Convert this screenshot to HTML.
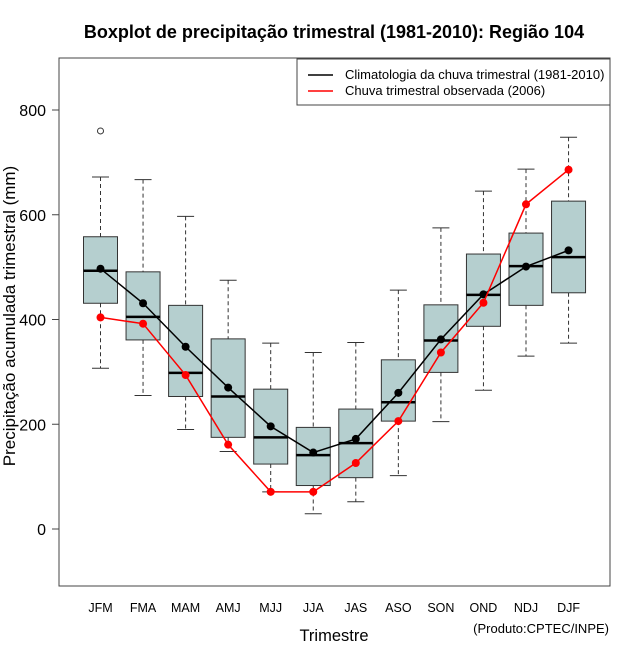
<!DOCTYPE html>
<html><head><meta charset="utf-8"><style>
html,body{margin:0;padding:0;background:#fff;}
svg{display:block;font-family:"Liberation Sans",sans-serif;}
</style></head><body>
<svg id="chart" width="640" height="660" viewBox="0 0 640 660">
<text x="334" y="38" text-anchor="middle" font-size="18" font-weight="bold">Boxplot de precipitação trimestral (1981-2010): Região 104</text>
<rect x="59" y="58" width="551" height="528" fill="none" stroke="#444" stroke-width="1"/>
<g id="yaxis"></g>
<g id="xaxis"></g>
<g id="boxes"></g>
<g id="lines"></g>
<text transform="translate(15,316) rotate(-90)" text-anchor="middle" font-size="17">Precipitação acumulada trimestral (mm)</text>
<text x="334" y="641" text-anchor="middle" font-size="16.5">Trimestre</text>
<text x="609" y="633" text-anchor="end" font-size="13">(Produto:CPTEC/INPE)</text>
<g>
<rect x="297" y="59" width="313" height="46" fill="#fff" stroke="#444" stroke-width="1"/>
<line x1="308" y1="75" x2="333" y2="75" stroke="#000" stroke-width="1.5"/>
<text x="345" y="79" font-size="13">Climatologia da chuva trimestral (1981-2010)</text>
<line x1="308" y1="91" x2="333" y2="91" stroke="#f00" stroke-width="1.5"/>
<text x="345" y="95" font-size="13">Chuva trimestral observada (2006)</text>
</g>
</svg>
<script>
const categories=["JFM","FMA","MAM","AMJ","MJJ","JJA","JAS","ASO","SON","OND","NDJ","DJF"];
const whiskerLow=[307,255,190,148,71,29,52,102,205,265,330,355];
const boxLow=[431,361,253,175,124,83,98,206,299,387,427,451];
const medians=[493,405,298,253,175,141,164,242,360,447,502,519];
const boxHigh=[558,491,427,363,267,194,229,323,428,525,565,626];
const whiskerHigh=[672,667,597,475,355,337,356,456,575,645,687,748];
const outliers=[[0,760]];
const climatology=[497,431,348,270,196,146,172,260,362,448,501,532];
const observed=[404,392,294,161,71,71,126,206,337,432,620,686];
const yTicks=[0,200,400,600,800];

const NS="http://www.w3.org/2000/svg";
const yS=v=>529-v*0.52375;
const xS=i=>100.5+i*42.55;
function mk(tag,attrs,parent){const e=document.createElementNS(NS,tag);for(const k in attrs)e.setAttribute(k,attrs[k]);parent.appendChild(e);return e;}
const ya=document.getElementById('yaxis'),xa=document.getElementById('xaxis'),bx=document.getElementById('boxes'),ln=document.getElementById('lines');
yTicks.forEach(v=>{
  const t=mk('line',{x1:52,x2:59,y1:yS(v),y2:yS(v),stroke:'#444'},ya);
  
  
  const l=mk('text',{x:46,y:yS(v)+6,'text-anchor':'end','font-size':16},ya);
  
  
  l.textContent=v;
});
categories.forEach((c,i)=>{
  const l=mk('text',{x:xS(i),y:612,'text-anchor':'middle','font-size':12.5},xa);
  
  
  l.textContent=c;
  const g=mk('g',{},bx);
  
  
  const x=xS(i);
  mk('line',{x1:x,x2:x,y1:yS(whiskerHigh[i]),y2:yS(boxHigh[i]),stroke:'#333','stroke-dasharray':'4,3'},g);
  mk('line',{x1:x,x2:x,y1:yS(boxLow[i]),y2:yS(whiskerLow[i]),stroke:'#333','stroke-dasharray':'4,3'},g);
  mk('line',{x1:x-8.5,x2:x+8.5,y1:yS(whiskerHigh[i]),y2:yS(whiskerHigh[i]),stroke:'#333'},g);
  mk('line',{x1:x-8.5,x2:x+8.5,y1:yS(whiskerLow[i]),y2:yS(whiskerLow[i]),stroke:'#333'},g);
  mk('rect',{x:x-17,y:yS(boxHigh[i]),width:34,height:yS(boxLow[i])-yS(boxHigh[i]),fill:'#b5cfcf',stroke:'#333'},g);
  mk('line',{x1:x-17,x2:x+17,y1:yS(medians[i]),y2:yS(medians[i]),stroke:'#000','stroke-width':2.5},g);
});
outliers.forEach(o=>{
  const c=mk('circle',{cx:xS(o[0]),cy:yS(o[1]),r:3,fill:'none',stroke:'#333'},bx);
  
  
});
function series(vals,color,name){
  const p=mk('polyline',{points:vals.map((v,i)=>xS(i)+','+yS(v)).join(' '),fill:'none',stroke:color,'stroke-width':1.5},ln);
  
  
  vals.forEach((v,i)=>{
    const c=mk('circle',{cx:xS(i),cy:yS(v),r:4,fill:color},ln);
    
    
  });
}
series(climatology,'#000','climatology');
series(observed,'#f00','observed');
</script>
</body></html>
